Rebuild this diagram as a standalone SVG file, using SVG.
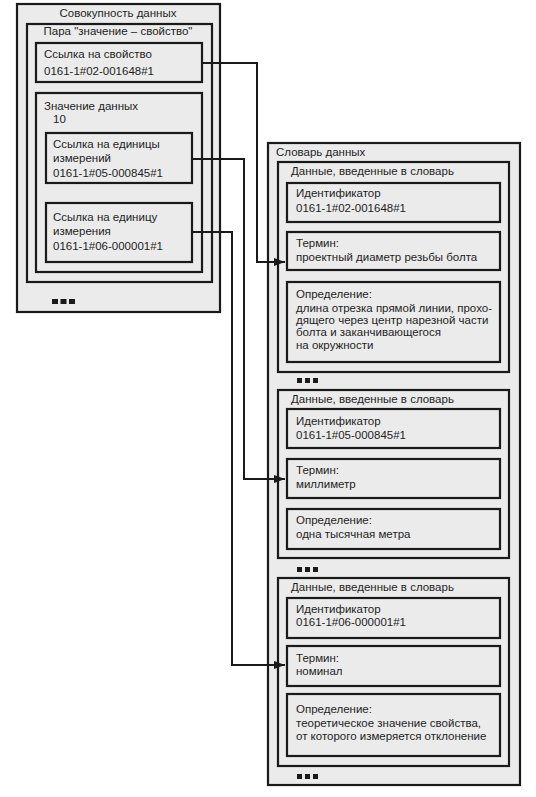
<svg xmlns="http://www.w3.org/2000/svg" width="536" height="797" viewBox="0 0 536 797">
<defs>
<style>
.b{fill:#ebebeb;stroke:#1a1a1a;stroke-width:2.2}
.t{font-family:"Liberation Sans",Arial,sans-serif;font-size:11.5px;fill:#1e1e1e}
.c{text-anchor:middle}
.w{fill:none;stroke:#1a1a1a;stroke-width:2}
.d{fill:#1a1a1a}
</style>
<marker id="ah" markerWidth="11" markerHeight="8" refX="11" refY="4" orient="auto" markerUnits="userSpaceOnUse">
<path d="M0,0 L11,4 L0,8 Z" fill="#1a1a1a"/>
</marker>
</defs>
<rect width="536" height="797" fill="#ffffff"/>

<g id="dataset">
<rect class="b" x="17" y="4" width="203" height="308"/>
<text class="t c" x="118" y="17">Совокупность данных</text>
<rect class="d" x="52" y="299" width="6" height="5"/><rect class="d" x="60.5" y="299" width="6" height="5"/><rect class="d" x="69" y="299" width="6" height="5"/>
</g>
<g id="pair">
<rect class="b" x="27" y="24" width="185" height="258"/>
<text class="t c" x="118" y="35">Пара "значение – свойство"</text>
</g>
<g id="propref">
<rect class="b" x="36" y="43" width="166" height="39"/>
<text class="t" x="44" y="58">Ссылка на свойство</text>
<text class="t" x="44" y="75">0161-1#02-001648#1</text>
</g>
<g id="datavalue">
<rect class="b" x="36" y="93" width="166" height="179"/>
<text class="t" x="44" y="110">Значение данных</text>
<text class="t" x="53" y="123">10</text>
</g>
<g id="unitsref">
<rect class="b" x="46" y="133" width="146" height="50"/>
<text class="t" x="53" y="148">Ссылка на единицы</text>
<text class="t" x="53" y="162">измерений</text>
<text class="t" x="53" y="177">0161-1#05-000845#1</text>
</g>
<g id="unitref">
<rect class="b" x="46" y="203" width="146" height="59"/>
<text class="t" x="53" y="221">Ссылка на единицу</text>
<text class="t" x="53" y="235">измерения</text>
<text class="t" x="53" y="250">0161-1#06-000001#1</text>
</g>

<g id="dictionary">
<rect class="b" x="268" y="143" width="252" height="642"/>
<text class="t" x="276" y="156">Словарь данных</text>
<rect class="d" x="297" y="378" width="5" height="5"/><rect class="d" x="305" y="378" width="5" height="5"/><rect class="d" x="313" y="378" width="5" height="5"/>
<rect class="d" x="297" y="567" width="5" height="5"/><rect class="d" x="305" y="567" width="5" height="5"/><rect class="d" x="313" y="567" width="5" height="5"/>
<rect class="d" x="297" y="774" width="5" height="5"/><rect class="d" x="305" y="774" width="5" height="5"/><rect class="d" x="313" y="774" width="5" height="5"/>
</g>

<g id="entry1">
<rect class="b" x="278" y="162" width="231" height="210"/>
<text class="t" x="291" y="175">Данные, введенные в словарь</text>
<rect class="b" x="287" y="183" width="213" height="39"/>
<text class="t" x="296" y="197">Идентификатор</text>
<text class="t" x="296" y="212">0161-1#02-001648#1</text>
<rect class="b" x="287" y="232" width="213" height="38"/>
<text class="t" x="296" y="247">Термин:</text>
<text class="t" x="296" y="261">проектный диаметр резьбы болта</text>
<rect class="b" x="287" y="282" width="213" height="80"/>
<text class="t" x="296" y="298">Определение:</text>
<text class="t" x="296" y="312">длина отрезка прямой линии, прохо-</text>
<text class="t" x="296" y="324">дящего через центр нарезной части</text>
<text class="t" x="296" y="336">болта и заканчивающегося</text>
<text class="t" x="296" y="349">на окружности</text>
</g>

<g id="entry2">
<rect class="b" x="278" y="390" width="231" height="168"/>
<text class="t" x="291" y="403">Данные, введенные в словарь</text>
<rect class="b" x="287" y="409" width="213" height="39"/>
<text class="t" x="296" y="425">Идентификатор</text>
<text class="t" x="296" y="439">0161-1#05-000845#1</text>
<rect class="b" x="287" y="459" width="213" height="39"/>
<text class="t" x="296" y="474">Термин:</text>
<text class="t" x="296" y="488">миллиметр</text>
<rect class="b" x="287" y="509" width="213" height="40"/>
<text class="t" x="296" y="524">Определение:</text>
<text class="t" x="296" y="538">одна тысячная метра</text>
</g>

<g id="entry3">
<rect class="b" x="278" y="578" width="231" height="188"/>
<text class="t" x="291" y="591">Данные, введенные в словарь</text>
<rect class="b" x="287" y="598" width="213" height="40"/>
<text class="t" x="296" y="613">Идентификатор</text>
<text class="t" x="296" y="626">0161-1#06-000001#1</text>
<rect class="b" x="287" y="646" width="213" height="40"/>
<text class="t" x="296" y="662">Термин:</text>
<text class="t" x="296" y="675">номинал</text>
<rect class="b" x="287" y="694" width="213" height="62"/>
<text class="t" x="296" y="713">Определение:</text>
<text class="t" x="296" y="727">теоретическое значение свойства,</text>
<text class="t" x="296" y="740">от которого измеряется отклонение</text>
</g>

<g id="connectors">
<path class="w" d="M202,63 H257 V262 H285" marker-end="url(#ah)"/>
<path class="w" d="M192,159 H244 V479 H285" marker-end="url(#ah)"/>
<path class="w" d="M192,232 H232 V665 H285" marker-end="url(#ah)"/>
</g>
</svg>
